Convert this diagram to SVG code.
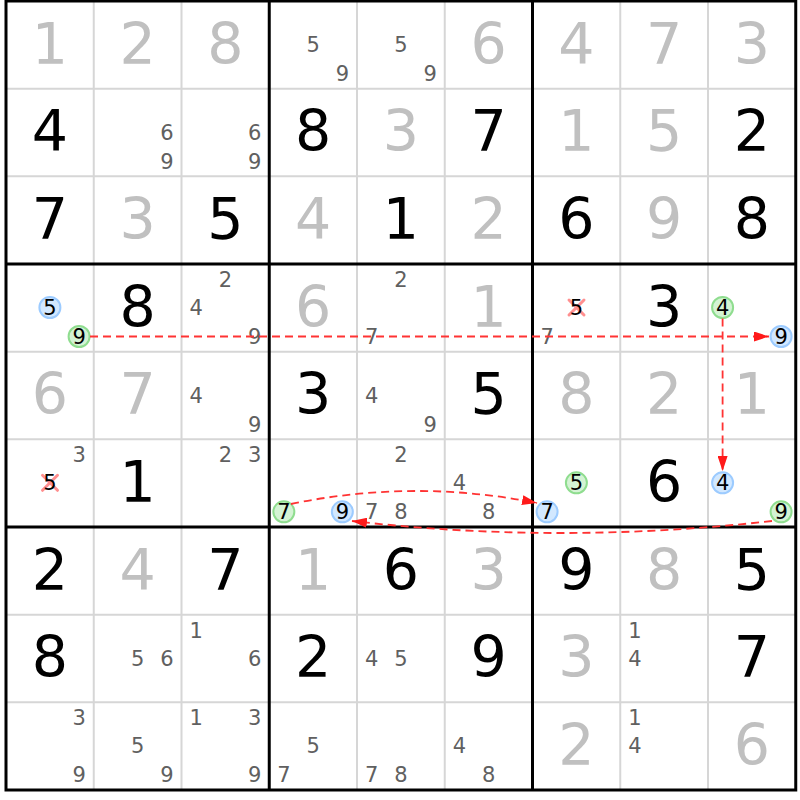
<svg xmlns="http://www.w3.org/2000/svg" width="800" height="800" viewBox="0 0 800 800">
<style>
text{font-family:"DejaVu Sans",Verdana,sans-serif;text-anchor:middle}
.g{font-size:57px;fill:#000}
.s{font-size:57px;fill:#c0c0c0}
.c{font-size:21px;fill:#606060}
.k{font-size:21px;fill:#000}
.thin{stroke:#d6d6d6;stroke-width:2}
.thick{stroke:#000;stroke-width:3}
.cb{fill:#d2e8ff;stroke:#9ccbff;stroke-width:2}
.cg{fill:#d4f3d4;stroke:#8fdd8f;stroke-width:2}
.x{stroke:#ff8f8f;stroke-width:3;stroke-linecap:round}
.link{fill:none;stroke:#ff3333;stroke-width:1.8;stroke-dasharray:8 5}
</style>
<defs>
<marker id="arr" viewBox="0 0 15 10" refX="15" refY="5" markerWidth="15" markerHeight="10" markerUnits="userSpaceOnUse" orient="auto">
<path d="M0,0 L15,5 L0,10 Z" fill="#ff1a1a"/>
</marker>
</defs>
<rect x="0" y="0" width="800" height="800" fill="#fff"/>
<g id="grid">
<g class="thin">
<line x1="93.75" y1="1" x2="93.75" y2="790"/><line x1="181.5" y1="1" x2="181.5" y2="790"/>
<line x1="357" y1="1" x2="357" y2="790"/><line x1="444.75" y1="1" x2="444.75" y2="790"/>
<line x1="620.25" y1="1" x2="620.25" y2="790"/><line x1="708" y1="1" x2="708" y2="790"/>
<line x1="6" y1="88.67" x2="795.75" y2="88.67"/><line x1="6" y1="176.33" x2="795.75" y2="176.33"/>
<line x1="6" y1="351.67" x2="795.75" y2="351.67"/><line x1="6" y1="439.33" x2="795.75" y2="439.33"/>
<line x1="6" y1="614.67" x2="795.75" y2="614.67"/><line x1="6" y1="702.33" x2="795.75" y2="702.33"/>
</g>
<g class="thick">
<line x1="269.25" y1="1" x2="269.25" y2="790"/><line x1="532.5" y1="1" x2="532.5" y2="790"/>
<line x1="6" y1="264" x2="795.75" y2="264"/><line x1="6" y1="527" x2="795.75" y2="527"/>
<rect x="6" y="1" width="789.75" height="789" fill="none"/>
</g>
</g>
<g id="digits">
<text class="s" x="49.9" y="63.5">1</text><text class="s" x="137.6" y="63.5">2</text><text class="s" x="225.4" y="63.5">8</text>
<text class="s" x="488.6" y="63.5">6</text><text class="s" x="576.4" y="63.5">4</text><text class="s" x="664.1" y="63.5">7</text><text class="s" x="751.9" y="63.5">3</text>
<text class="g" x="49.9" y="151.2">4</text><text class="g" x="313.1" y="151.2">8</text><text class="s" x="400.9" y="151.2">3</text><text class="g" x="488.6" y="151.2">7</text>
<text class="s" x="576.4" y="151.2">1</text><text class="s" x="664.1" y="151.2">5</text><text class="g" x="751.9" y="151.2">2</text>
<text class="g" x="49.9" y="238.8">7</text><text class="s" x="137.6" y="238.8">3</text><text class="g" x="225.4" y="238.8">5</text><text class="s" x="313.1" y="238.8">4</text>
<text class="g" x="400.9" y="238.8">1</text><text class="s" x="488.6" y="238.8">2</text><text class="g" x="576.4" y="238.8">6</text><text class="s" x="664.1" y="238.8">9</text><text class="g" x="751.9" y="238.8">8</text>
<text class="g" x="137.6" y="326.5">8</text><text class="s" x="313.1" y="326.5">6</text><text class="s" x="488.6" y="326.5">1</text><text class="g" x="664.1" y="326.5">3</text>
<text class="s" x="49.9" y="414.2">6</text><text class="s" x="137.6" y="414.2">7</text><text class="g" x="313.1" y="414.2">3</text><text class="g" x="488.6" y="414.2">5</text>
<text class="s" x="576.4" y="414.2">8</text><text class="s" x="664.1" y="414.2">2</text><text class="s" x="751.9" y="414.2">1</text>
<text class="g" x="137.6" y="501.8">1</text><text class="g" x="664.1" y="501.8">6</text>
<text class="g" x="49.9" y="589.5">2</text><text class="s" x="137.6" y="589.5">4</text><text class="g" x="225.4" y="589.5">7</text><text class="s" x="313.1" y="589.5">1</text>
<text class="g" x="400.9" y="589.5">6</text><text class="s" x="488.6" y="589.5">3</text><text class="g" x="576.4" y="589.5">9</text><text class="s" x="664.1" y="589.5">8</text><text class="g" x="751.9" y="589.5">5</text>
<text class="g" x="49.9" y="677.2">8</text><text class="g" x="313.1" y="677.2">2</text><text class="g" x="488.6" y="677.2">9</text><text class="s" x="576.4" y="677.2">3</text><text class="g" x="751.9" y="677.2">7</text>
<text class="s" x="576.4" y="764.8">2</text><text class="s" x="751.9" y="764.8">6</text>
</g>
<g id="candidates">
<g id="r0c3"><text class="c" x="313.15" y="52">5</text><text class="c" x="342.35" y="81">9</text></g>
<g id="r0c4"><text class="c" x="400.9" y="52">5</text><text class="c" x="430.1" y="81">9</text></g>
<g id="r1c1"><text class="c" x="166.85" y="139.7">6</text><text class="c" x="166.85" y="168.7">9</text></g>
<g id="r1c2"><text class="c" x="254.6" y="139.7">6</text><text class="c" x="254.6" y="168.7">9</text></g>
<g id="r3c0"><circle class="cb" cx="49.9" cy="307.5" r="10.5"/><text class="k" x="49.9" y="315">5</text><circle class="cg" cx="79.1" cy="336.5" r="10.5"/><text class="k" x="79.1" y="344">9</text></g>
<g id="r3c2"><text class="c" x="225.4" y="287">2</text><text class="c" x="196.1" y="315">4</text><text class="c" x="254.6" y="344">9</text></g>
<g id="r3c4"><text class="c" x="400.9" y="287">2</text><text class="c" x="371.6" y="344">7</text></g>
<g id="r3c6"><line class="x" x1="569" y1="300" x2="584" y2="315"/><line class="x" x1="584" y1="300" x2="569" y2="315"/><text class="k" x="576.4" y="315">5</text><text class="c" x="547.1" y="344">7</text></g>
<g id="r3c8"><circle class="cg" cx="722.6" cy="307.5" r="10.5"/><text class="k" x="722.6" y="315">4</text><circle class="cb" cx="781.1" cy="336.5" r="10.5"/><text class="k" x="781.1" y="344">9</text></g>
<g id="r4c2"><text class="c" x="196.1" y="402.7">4</text><text class="c" x="254.6" y="431.7">9</text></g>
<g id="r4c4"><text class="c" x="371.6" y="402.7">4</text><text class="c" x="430.1" y="431.7">9</text></g>
<g id="r5c0"><text class="c" x="79.1" y="462.3">3</text><line class="x" x1="42.5" y1="475.3" x2="57.5" y2="490.3"/><line class="x" x1="57.5" y1="475.3" x2="42.5" y2="490.3"/><text class="k" x="49.9" y="490.3">5</text></g>
<g id="r5c2"><text class="c" x="225.4" y="462.3">2</text><text class="c" x="254.6" y="462.3">3</text></g>
<g id="r5c3"><circle class="cg" cx="283.85" cy="511.83" r="10.5"/><text class="k" x="283.85" y="519.3">7</text><circle class="cb" cx="342.35" cy="511.83" r="10.5"/><text class="k" x="342.35" y="519.3">9</text></g>
<g id="r5c4"><text class="c" x="400.9" y="462.3">2</text><text class="c" x="371.6" y="519.3">7</text><text class="c" x="400.9" y="519.3">8</text></g>
<g id="r5c5"><text class="c" x="459.35" y="490.3">4</text><text class="c" x="488.65" y="519.3">8</text></g>
<g id="r5c6"><circle class="cg" cx="576.4" cy="482.83" r="10.5"/><text class="k" x="576.4" y="490.3">5</text><circle class="cb" cx="547.1" cy="511.83" r="10.5"/><text class="k" x="547.1" y="519.3">7</text></g>
<g id="r5c8"><circle class="cb" cx="722.6" cy="482.83" r="10.5"/><text class="k" x="722.6" y="490.3">4</text><circle class="cg" cx="781.1" cy="511.83" r="10.5"/><text class="k" x="781.1" y="519.3">9</text></g>
<g id="r7c1"><text class="c" x="137.65" y="665.7">5</text><text class="c" x="166.85" y="665.7">6</text></g>
<g id="r7c2"><text class="c" x="196.1" y="637.7">1</text><text class="c" x="254.6" y="665.7">6</text></g>
<g id="r7c4"><text class="c" x="371.6" y="665.7">4</text><text class="c" x="400.9" y="665.7">5</text></g>
<g id="r7c7"><text class="c" x="634.85" y="637.7">1</text><text class="c" x="634.85" y="665.7">4</text></g>
<g id="r8c0"><text class="c" x="79.1" y="725.3">3</text><text class="c" x="79.1" y="782.3">9</text></g>
<g id="r8c1"><text class="c" x="137.65" y="753.3">5</text><text class="c" x="166.85" y="782.3">9</text></g>
<g id="r8c2"><text class="c" x="196.1" y="725.3">1</text><text class="c" x="254.6" y="725.3">3</text><text class="c" x="254.6" y="782.3">9</text></g>
<g id="r8c3"><text class="c" x="313.15" y="753.3">5</text><text class="c" x="283.85" y="782.3">7</text></g>
<g id="r8c4"><text class="c" x="371.6" y="782.3">7</text><text class="c" x="400.9" y="782.3">8</text></g>
<g id="r8c5"><text class="c" x="459.35" y="753.3">4</text><text class="c" x="488.65" y="782.3">8</text></g>
<g id="r8c7"><text class="c" x="634.85" y="725.3">1</text><text class="c" x="634.85" y="753.3">4</text></g>
</g>
<g id="connectors">
<path class="link" d="M90,336.5 L769,336.5" marker-end="url(#arr)"/>
<path class="link" d="M722.6,318.5 L722.6,471" marker-end="url(#arr)"/>
<path class="link" d="M291,504 Q414,478.5 537,503" marker-end="url(#arr)"/>
<path class="link" d="M772,521 Q560,545 352,521" marker-end="url(#arr)"/>
</g>
</svg>
